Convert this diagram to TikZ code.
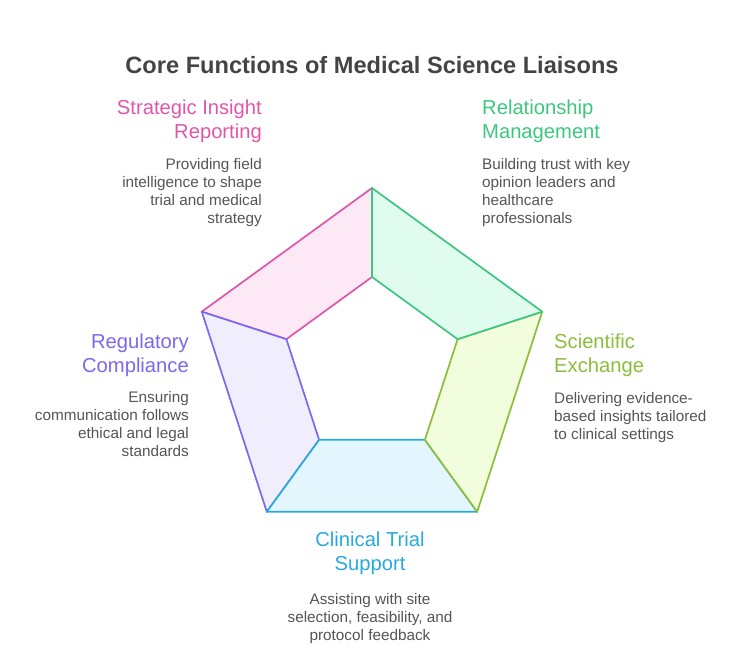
\documentclass[tikz,border=0pt]{standalone}
\usepackage{fontspec}
\setmainfont{Liberation Sans}
\usetikzlibrary{calc}
\definecolor{TitleGray}{RGB}{68,68,68}
\definecolor{TextGray}{RGB}{85,85,85}
\definecolor{PinkLine}{RGB}{224,86,170}
\definecolor{PinkFill}{RGB}{253,232,245}
\definecolor{GreenLine}{RGB}{61,199,126}
\definecolor{GreenFill}{RGB}{224,252,238}
\definecolor{LimeLine}{RGB}{140,190,60}
\definecolor{LimeFill}{RGB}{241,253,220}
\definecolor{BlueLine}{RGB}{40,170,220}
\definecolor{BlueFill}{RGB}{228,246,253}
\definecolor{PurpleLine}{RGB}{123,104,238}
\definecolor{PurpleFill}{RGB}{240,238,253}

\begin{document}
\begin{tikzpicture}[x=1pt,y=-1pt,
  head/.style={inner sep=0pt,font=\fontsize{20.2}{23.8}\selectfont},
  body/.style={inner sep=0pt,text=TextGray,font=\fontsize{15.3}{18}\selectfont},
  seg/.style={line width=1.7pt,line join=round}]
  \useasboundingbox (0,0) rectangle (744,663);
  \coordinate (C) at (372,367);
  \foreach \n/\a in {T/-90,R/-18,BR/54,BL/126,L/198}{
    \coordinate (o\n) at ($(C)+(\a:179)$);
    \coordinate (i\n) at ($(C)+(\a:90)$);
  }
  % the five segments of the ring
  \filldraw[seg,draw=PinkLine,fill=PinkFill] (oT) -- (oL) -- (iL) -- (iT) -- cycle;
  \filldraw[seg,draw=PurpleLine,fill=PurpleFill] (oL) -- (oBL) -- (iBL) -- (iL) -- cycle;
  \filldraw[seg,draw=BlueLine,fill=BlueFill] (oBL) -- (oBR) -- (iBR) -- (iBL) -- cycle;
  \filldraw[seg,draw=LimeLine,fill=LimeFill] (oBR) -- (oR) -- (iR) -- (iBR) -- cycle;
  \filldraw[seg,draw=GreenLine,fill=GreenFill] (oR) -- (oT) -- (iT) -- (iR) -- cycle;

  \node[anchor=north,inner sep=0pt,text=TitleGray,font=\fontsize{23.6}{28}\selectfont\bfseries]
    (title) at (372,56) {Core Functions of Medical Science Liaisons};

  \node[head,anchor=north east,align=right,text=PinkLine] (sirHead) at (262,100)
    {Strategic Insight\\Reporting};
  \node[body,anchor=north east,align=right] (sirText) at (262,158)
    {Providing field\\intelligence to shape\\trial and medical\\strategy};

  \node[head,anchor=north west,align=left,text=GreenLine] (rmHead) at (482,100)
    {Relationship\\Management};
  \node[body,anchor=north west,align=left] (rmText) at (482,158)
    {Building trust with key\\opinion leaders and\\healthcare\\professionals};

  \node[head,anchor=north east,align=right,text=PurpleLine] (rcHead) at (189,334)
    {Regulatory\\Compliance};
  \node[body,anchor=north east,align=right] (rcText) at (189,391)
    {Ensuring\\communication follows\\ethical and legal\\standards};

  \node[head,anchor=north west,align=left,text=LimeLine] (seHead) at (554,334)
    {Scientific\\Exchange};
  \node[body,anchor=north west,align=left] (seText) at (554,392)
    {Delivering evidence-\\based insights tailored\\to clinical settings};

  \node[head,anchor=north,align=center,text=BlueLine] (ctsHead) at (370,532)
    {Clinical Trial\\Support};
  \node[body,anchor=north,align=center] (ctsText) at (370,593)
    {Assisting with site\\selection, feasibility, and\\protocol feedback};
\end{tikzpicture}
\end{document}
